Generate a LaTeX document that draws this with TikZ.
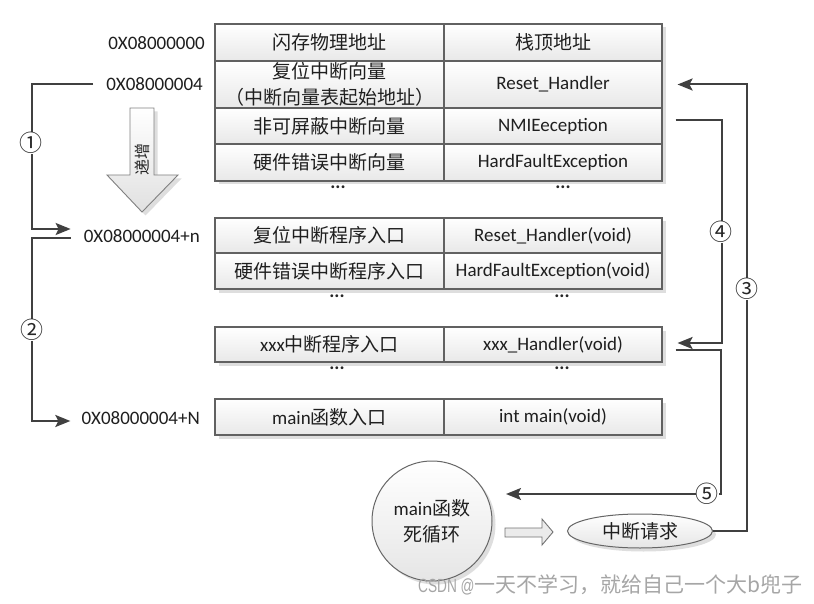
\documentclass[tikz,border=0pt]{standalone}
\usepackage{fontspec}
\setmainfont{Carlito}
\newfontfamily\cjk{Noto Sans CJK SC}
\newfontfamily\wmfont[FakeStretch=0.72]{Liberation Sans}
\usetikzlibrary{shapes.geometric,shadows,arrows.meta,calc}
\begin{document}
\begin{tikzpicture}[x=1pt,y=-1pt,
  txt/.style={font=\fontsize{19}{26}\selectfont, text=black!88},
  shd/.style={drop shadow={shadow xshift=3.5pt, shadow yshift=-3.5pt, fill=black!13, opacity=1}},
  cell/.style={draw=black!62, line width=1.1pt, top color=white, bottom color=black!9, inner sep=0pt, shd, txt},
  lc/.style={cell, minimum width=229pt},
  rc/.style={cell, minimum width=218pt},
  addr/.style={txt, anchor=east, inner sep=0pt},
  dots/.style={font=\fontsize{19}{19}\selectfont\bfseries, inner sep=0pt, anchor=base, text=black!85},
  conn/.style={draw=black!75, line width=2pt},
  arr/.style={conn, -{Stealth[length=15pt,width=12pt,inset=3pt]}},
  num/.style={font=\cjk\fontsize{23}{23}\selectfont, fill=white, inner sep=0pt, text=black!85},
  blob/.style={draw=black!60, line width=1pt, top color=white, bottom color=black!10, shd, txt},
]
\fill[white] (0,0) rectangle (814,604);
\useasboundingbox (0,0) rectangle (814,604);

% block 1
\node[lc, minimum height=37pt] (l11) at (329.5,42.5) {\cjk 闪存物理地址};
\node[rc, minimum height=37pt] (r11) at (553,42.5) {\cjk 栈顶地址};
\node[lc, minimum height=47pt, align=center] (l12) at (329.5,84.5) {{\cjk 复位中断向量}\\{\cjk （中断向量表起始地址）}};
\node[rc, minimum height=47pt] (r12) at (553,84.5) {Reset\_Handler};
\node[lc, minimum height=36pt] (l13) at (329.5,126) {\cjk 非可屏蔽中断向量};
\node[rc, minimum height=36pt] (r13) at (553,126) {NMIEeception};
\node[lc, minimum height=37pt] (l14) at (329.5,162.5) {\cjk 硬件错误中断向量};
\node[rc, minimum height=37pt] (r14) at (553,162.5) {HardFaultException};
\node[dots] (d1l) at (338,189) {...};
\node[dots] (d1r) at (563,189) {...};

% block 2
\node[lc, minimum height=35pt] (l21) at (329.5,235.5) {\cjk 复位中断程序入口};
\node[rc, minimum height=35pt] (r21) at (553,235.5) {Reset\_Handler(void)};
\node[lc, minimum height=36pt] (l22) at (329.5,271) {\cjk 硬件错误中断程序入口};
\node[rc, minimum height=36pt] (r22) at (553,271) {HardFaultException(void)};
\node[dots] (d2l) at (337,297) {...};
\node[dots] (d2r) at (562,297) {...};

% block 3
\node[lc, minimum height=35pt] (l31) at (329.5,344.5) {xxx{\cjk 中断程序入口}};
\node[rc, minimum height=35pt] (r31) at (553,344.5) {xxx\_Handler(void)};
\node[dots] (d3l) at (337,369) {...};
\node[dots] (d3r) at (562,369) {...};

% block 4
\node[lc, minimum height=36pt] (l41) at (329.5,417) {main{\cjk 函数入口}};
\node[rc, minimum height=36pt] (r41) at (553,417) {int main(void)};

% addresses
\node[addr] (a0) at (205,43) {0X08000000};
\node[addr] (a1) at (203,84) {0X08000004};
\node[addr] (an) at (200,236) {0X08000004+n};
\node[addr] (aN) at (200,418) {0X08000004+N};

% increasing arrow
\draw[draw=black!50, line width=0.9pt, top color=white, bottom color=black!12, shd]
  (130,108) -- (154,108) -- (154,175) -- (178,175) -- (142,212) -- (107,175) -- (130,175) -- cycle;
\node[rotate=90, font=\cjk\fontsize{16}{16}\selectfont, text=black!85, inner sep=0pt] (inc) at (142,160) {递增};

% main loop and interrupt request
\node[blob, circle, minimum size=120pt, align=center, inner sep=0pt] (mc) at (432,521) {main{\cjk 函数}\\{\cjk 死循环}};
\node[blob, ellipse, minimum width=145pt, minimum height=34pt, inner sep=0pt] (ell) at (640,531) {\cjk 中断请求};
\draw[draw=black!55, line width=0.9pt, fill=black!8]
  (505,528) -- (542,528) -- (542,519) -- (553,532) -- (542,545) -- (542,537) -- (505,537) -- cycle;

% left connectors
\coordinate (k2) at (32,421);
\draw[arr] ([xshift=-13pt]a1.west) -| ([xshift=-52pt,yshift=7pt]an.west) -- ([xshift=-13pt,yshift=7pt]an.west);
\draw[arr] ([xshift=-13pt,yshift=-2pt]an.west) -| (k2) -- ([xshift=-11pt,yshift=-3pt]aN.west);

% right connectors
\coordinate (k3) at (747,531);
\draw[arr] (ell.east) -- (k3) |- ([xshift=15pt]r12.east);
\draw[arr] ([xshift=13pt,yshift=6pt]r13.east) -| ([xshift=59pt,yshift=1.5pt]r31.east) -- ([xshift=15pt,yshift=1.5pt]r31.east);
\coordinate (k5) at (721,494);
\coordinate (t5) at (506,494);
\draw[arr] ([xshift=13pt,yshift=-5.5pt]r31.east) -| (k5) -- (t5);

% step numbers
\node[num] (n1) at (31,143) {①};
\node[num] (n2) at (32,330) {②};
\node[num] (n3) at (747,289) {③};
\node[num] (n4) at (721,232) {④};
\node[num] (n5) at (707,494) {⑤};

% watermark
\node[anchor=west, text=black!35, inner sep=0pt] (wm) at (418,585) {{\wmfont\fontsize{19}{19}\selectfont CSDN @}{\cjk\fontsize{21}{21}\selectfont 一天不学习，就给自己一个大b兜子}};
\end{tikzpicture}
\end{document}
